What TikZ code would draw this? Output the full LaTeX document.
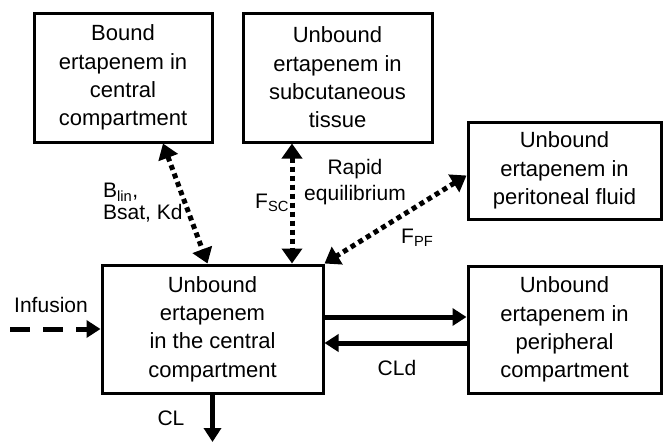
\documentclass[tikz,border=0pt]{standalone}
\usepackage{fontspec}
\setmainfont{Liberation Sans}
\usetikzlibrary{arrows.meta}
\begin{document}
\begin{tikzpicture}[x=1pt,y=-1pt,
  box/.style={draw,line width=3pt,rectangle,align=center,inner sep=0pt,
    font=\fontsize{22}{28.3}\selectfont},
  lbl/.style={font=\fontsize{21}{24}\selectfont,inner sep=0pt},
  flow/.style={line width=5pt,-{Triangle[length=14pt,width=17pt]}},
  eqarrow/.style={line width=5pt,dash pattern=on 5pt off 4pt,
    {Triangle[length=15pt,width=20pt]}-{Triangle[length=15pt,width=20pt]}},
  infarrow/.style={line width=5pt,dash pattern=on 20pt off 13pt,
    -{Triangle[length=14pt,width=17pt]}},
]
\useasboundingbox (0,0) rectangle (663,442);

\node[box,minimum width=178pt,minimum height=129pt] (A) at (123,77.5)
  {Bound\\ertapenem in\\central\\compartment};
\node[box,minimum width=189pt,minimum height=129pt] (B) at (337.5,77.5)
  {Unbound\\ertapenem in\\subcutaneous\\tissue};
\node[box,minimum width=193pt,minimum height=97pt] (PF) at (564.5,170.5)
  {Unbound\\ertapenem in\\peritoneal fluid};
\node[box,minimum width=221pt,minimum height=128pt] (C) at (212.5,329)
  {Unbound\\ertapenem\\in the central\\compartment};
\node[box,minimum width=193pt,minimum height=127pt] (P) at (564.5,329.5)
  {Unbound\\ertapenem in\\peripheral\\compartment};

\coordinate (inf) at (10,329);
\coordinate (clend) at (212.5,442);

\draw[eqarrow] ([xshift=40pt]A.south) -- ([xshift=-5pt]C.north);
\draw[eqarrow] ([xshift=-45.5pt]B.south) -- ([xshift=79.5pt]C.north);
\draw[eqarrow] ([yshift=-5pt]PF.west) -- (C.north east);

\draw[flow] ([yshift=12pt]C.east) -- ([yshift=12.5pt]P.west);
\draw[flow] ([yshift=-13.5pt]P.west) -- ([yshift=-14pt]C.east);
\draw[infarrow] (inf) -- (C.west);
\draw[flow] (C.south) -- (clend);

\node[lbl,anchor=west,align=left,font=\fontsize{21}{22}\selectfont] (lb) at (103,203)
  {B\textsubscript{lin},\\Bsat, Kd};
\node[lbl,anchor=west] (lsc) at (255,203) {F\textsubscript{SC}};
\node[lbl,align=center,font=\fontsize{21}{26}\selectfont] (lre) at (355,182) {Rapid\\equilibrium};
\node[lbl,anchor=west] (lpf) at (401,238) {F\textsubscript{PF}};
\node[lbl] (linf) at (51,305) {Infusion};
\node[lbl] (lcl) at (171,418) {CL};
\node[lbl] (lcld) at (397,368) {CLd};
\end{tikzpicture}
\end{document}
